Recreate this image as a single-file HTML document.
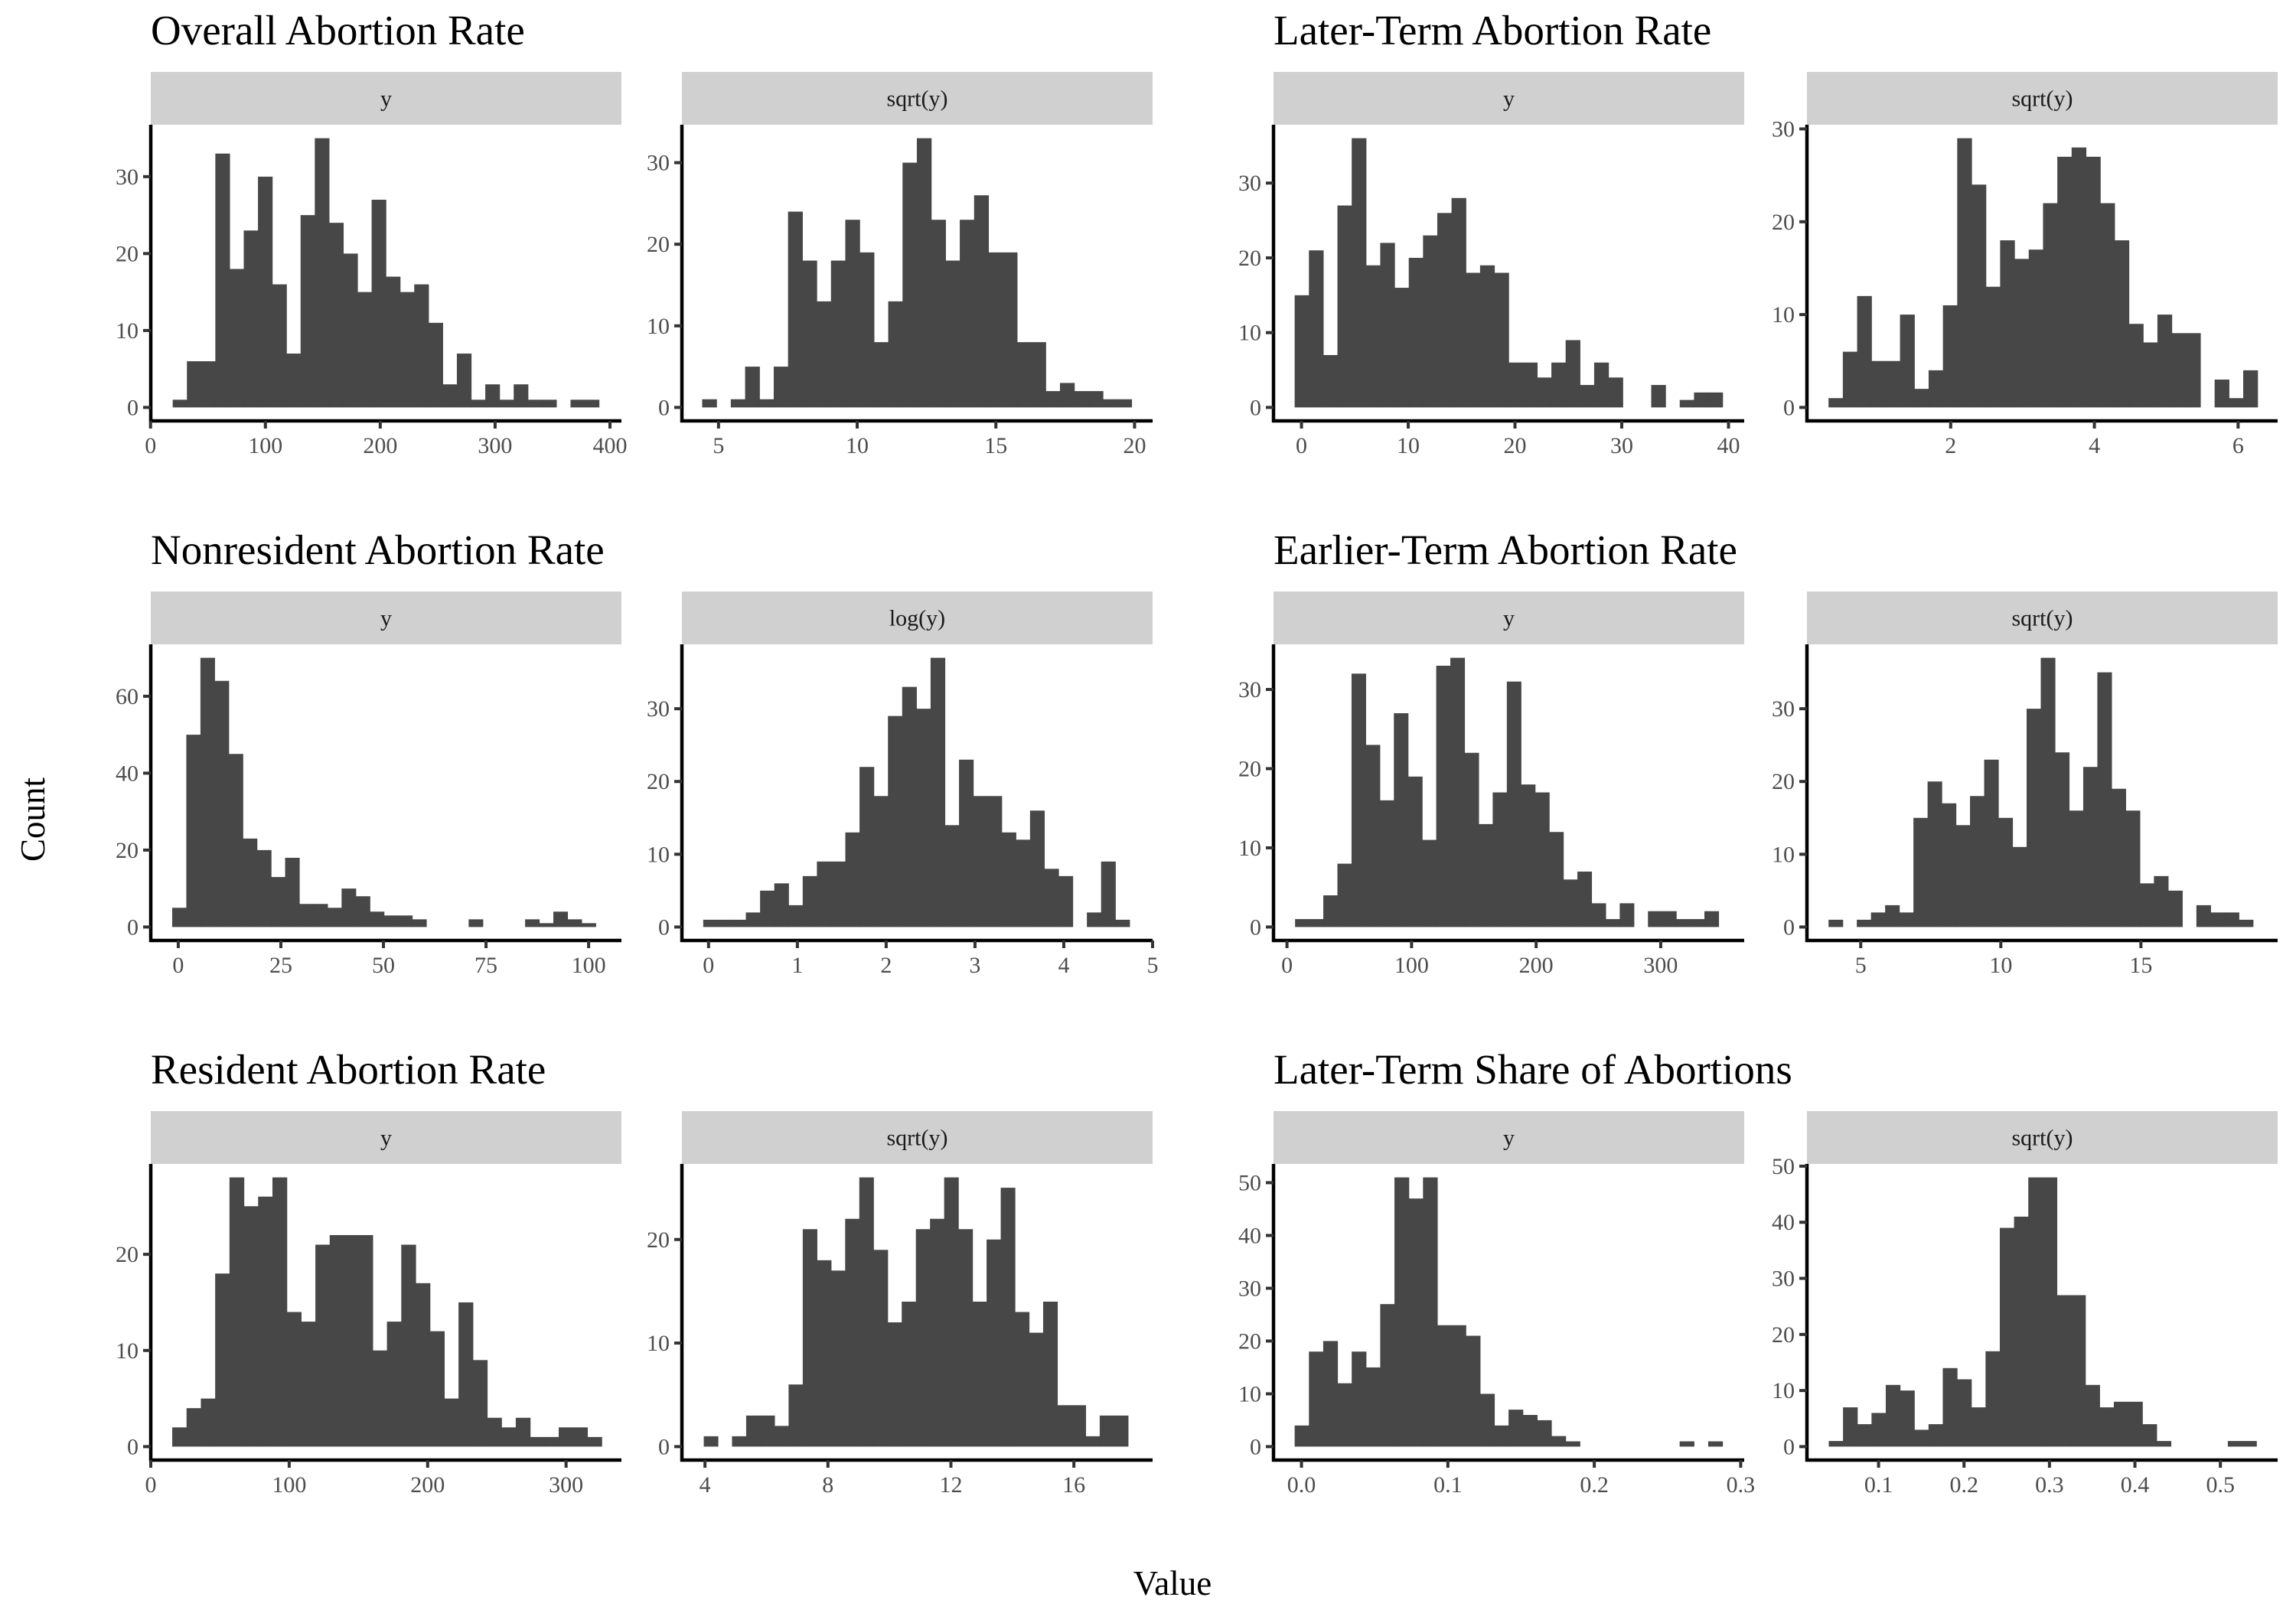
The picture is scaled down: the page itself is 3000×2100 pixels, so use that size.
<!DOCTYPE html>
<html><head><meta charset="utf-8"><title>Abortion rate histograms</title>
<style>html,body{margin:0;padding:0;background:#fff}svg{display:block}</style></head>
<body>
<svg id="chart" xmlns="http://www.w3.org/2000/svg" width="3000" height="2100" viewBox="0 0 3000 2100" font-family="'Liberation Serif', serif">
<rect width="3000" height="2100" fill="#fff"/>
<text x="58" y="1071" font-size="45" text-anchor="middle" transform="rotate(-90 58 1071)">Count</text>
<text x="1532" y="2084" font-size="45" text-anchor="middle">Value</text>
</svg>
<script>
// ---- data (counts per bin, bin starts / widths, x-domains, tick labels) ----
const overallY = [1,6,6,33,18,23,30,16,7,25,35,24,20,15,27,17,15,16,11,3,7,1,3,1,3,1,1,0,1,1];
const overallSqrt = [1,0,1,5,1,5,24,18,13,18,23,19,8,13,30,33,23,18,23,26,19,19,8,8,2,3,2,2,1,1];
const laterY = [15,21,7,27,36,19,22,16,20,23,26,28,18,19,18,6,6,4,6,9,3,6,4,0,0,3,0,1,2,2];
const laterSqrt = [1,6,12,5,5,10,2,4,11,29,24,13,18,16,17,22,27,28,27,22,18,9,7,10,8,8,0,3,1,4];
const nonresY = [5,50,70,64,45,23,20,13,18,6,6,5,10,8,4,3,3,2,0,0,0,2,0,0,0,2,1,4,2,1];
const nonresLog = [1,1,1,2,5,6,3,7,9,9,13,22,18,29,33,30,37,14,23,18,18,13,12,16,8,7,0,2,9,1];
const earlierY = [1,1,4,8,32,23,16,27,19,11,33,34,22,13,17,31,18,17,12,6,7,3,1,3,0,2,2,1,1,2];
const earlierSqrt = [1,0,1,2,3,2,15,20,17,14,18,23,15,11,30,37,24,16,22,35,19,16,6,7,5,0,3,2,2,1];
const residentY = [2,4,5,18,28,25,26,28,14,13,21,22,22,22,10,13,21,17,12,5,15,9,3,2,3,1,1,2,2,1];
const residentSqrt = [1,0,1,3,3,2,6,21,18,17,22,26,19,12,14,21,22,26,21,14,20,25,13,11,14,4,4,1,3,3];
const shareY = [4,18,20,12,18,15,27,51,47,51,23,23,21,10,4,7,6,5,2,1,0,0,0,0,0,0,0,1,0,1];
const shareSqrt = [1,7,4,6,11,10,3,4,14,12,7,17,39,41,48,48,27,27,11,7,8,8,4,1,0,0,0,0,1,1];

const binStarts = [19.3, 4.41, -0.64, 0.30, -1.48, -0.06, 6.5, 3.85, 15.5, 3.96, -0.00466, 0.0417];
const binWidths = [12.37, 0.516, 1.336, 0.199, 3.44, 0.16, 11.33, 0.505, 10.34, 0.46, 0.00974, 0.01668];
const xDomains = [[0.2,410],[3.68,20.65],[-2.62,41.47],[0.0,6.55],[-6.7,108.0],[-0.30,5.0],[-10.8,367],[3.08,19.88],[0,340],[3.25,18.56],[-0.0191,0.3024],[0.0162,0.567]];
const xTickLabels = [["0","100","200","300","400"],["5","10","15","20"],["0","10","20","30","40"],["2","4","6"],["0","25","50","75","100"],["0","1","2","3","4","5"],["0","100","200","300"],["5","10","15"],["0","100","200","300"],["4","8","12","16"],["0.0","0.1","0.2","0.3"],["0.1","0.2","0.3","0.4","0.5"]];
const yTickLabels = [["0","10","20","30"],["0","10","20","30"],["0","10","20","30"],["0","10","20","30"],["0","20","40","60"],["0","10","20","30"],["0","10","20","30"],["0","10","20","30"],["0","10","20"],["0","10","20"],["0","10","20","30","40","50"],["0","10","20","30","40","50"]];
const stripLabels = ["y","sqrt(y)","y","sqrt(y)","y","log(y)","y","sqrt(y)","y","sqrt(y)","y","sqrt(y)"];
const titles = ["Overall Abortion Rate","Later-Term Abortion Rate","Nonresident Abortion Rate","Earlier-Term Abortion Rate","Resident Abortion Rate","Later-Term Share of Abortions"];
const allCounts = [overallY, overallSqrt, laterY, laterSqrt, nonresY, nonresLog, earlierY, earlierSqrt, residentY, residentSqrt, shareY, shareSqrt];

// ---- layout ----
const NS = "http://www.w3.org/2000/svg";
const svg = document.getElementById('chart');
const colLefts = [197, 891, 1664, 2361];
const rowTops = [94, 773, 1452];
const PW = 615, STRIP_H = 69, PH = 387;
function mk(tag, attrs, parent) {
  const e = document.createElementNS(NS, tag);
  for (const k in attrs) e.setAttribute(k, attrs[k]);
  (parent || svg).appendChild(e);
  return e;
}

titles.forEach((t, i) => {
  const row = Math.floor(i / 2), col = (i % 2) * 2;
  const el = mk('text', {x: colLefts[col], y: rowTops[row] - 36, 'font-size': 55, fill: '#000'});
  el.textContent = t;
  
  
});

allCounts.forEach((counts, p) => {
  const row = Math.floor(p / 4), col = p % 4;
  const L = colLefts[col], T = rowTops[row];
  const plotTop = T + STRIP_H, bottom = plotTop + PH;
  const g = mk('g', {});
  
  

  const strip = mk('rect', {x: L, y: T, width: PW, height: STRIP_H, fill: '#d0d0d0'}, g);
  
  
  const st = mk('text', {x: L + PW / 2, y: T + STRIP_H / 2 + 10, 'font-size': 30, 'text-anchor': 'middle', fill: '#1a1a1a'}, g);
  st.textContent = stripLabels[p];
  
  

  const d = xDomains[p];
  const xs = v => L + (v - d[0]) / (d[1] - d[0]) * PW;
  const maxC = Math.max(...counts);
  const k = PH / (maxC * 1.1);
  const y0 = bottom - 0.05 * maxC * k;
  const ys = c => y0 - c * k;

  counts.forEach((c, i) => {
    if (c <= 0) return;
    const a = binStarts[p] + i * binWidths[p];
    const x1 = xs(a), x2 = xs(a + binWidths[p]);
    const r = mk('rect', {x: x1, y: ys(c), width: x2 - x1 + 0.6, height: y0 - ys(c), fill: '#474747'}, g);
    
    
  });

  const ya = mk('line', {x1: L, y1: plotTop, x2: L, y2: bottom + 2, stroke: '#000', 'stroke-width': 4.5}, g);
  
  
  const xa = mk('line', {x1: L - 2, y1: bottom, x2: L + PW, y2: bottom, stroke: '#000', 'stroke-width': 4.5}, g);
  
  

  yTickLabels[p].forEach(lbl => {
    const yy = ys(parseFloat(lbl));
    const tk = mk('line', {x1: L - 10, y1: yy, x2: L, y2: yy, stroke: '#333', 'stroke-width': 4}, g);
    
    
    const tl = mk('text', {x: L - 16, y: yy + 10, 'font-size': 30, 'text-anchor': 'end', fill: '#4d4d4d'}, g);
    tl.textContent = lbl;
    
    
  });
  xTickLabels[p].forEach(lbl => {
    const xx = xs(parseFloat(lbl));
    const tk = mk('line', {x1: xx, y1: bottom, x2: xx, y2: bottom + 10, stroke: '#333', 'stroke-width': 4}, g);
    
    
    const tl = mk('text', {x: xx, y: bottom + 42, 'font-size': 30, 'text-anchor': 'middle', fill: '#4d4d4d'}, g);
    tl.textContent = lbl;
    
    
  });
});
</script>
</body></html>
